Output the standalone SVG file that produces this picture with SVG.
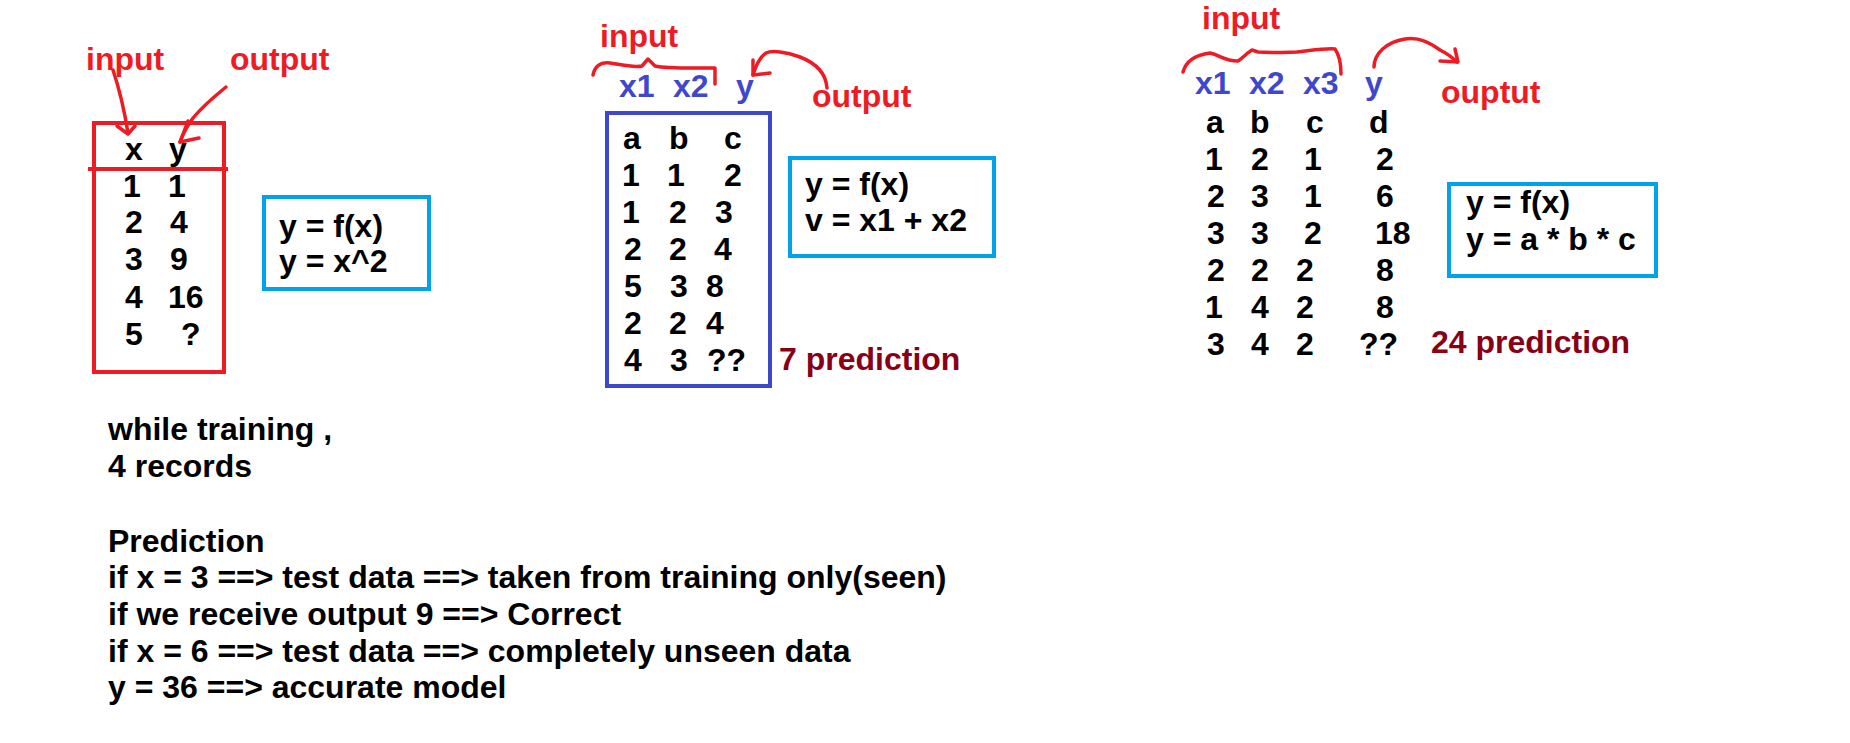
<svg xmlns="http://www.w3.org/2000/svg" width="1850" height="743" viewBox="0 0 1850 743">
<style>
text{font-family:"Liberation Sans",Arial,sans-serif;font-weight:bold;font-size:32px;fill:#000}
.red{fill:#ED1C24}
.ind{fill:#3F48CC}
.dark{fill:#880015}
.ann{fill:none;stroke:#ED1C24;stroke-width:3.5;stroke-linecap:round;stroke-linejoin:round}
.box-red{fill:none;stroke:#ED1C24;stroke-width:4}
.box-ind{fill:none;stroke:#3F48CC;stroke-width:4}
.box-cyan{fill:none;stroke:#00A2E8;stroke-width:4}
</style>
<rect width="1850" height="743" fill="#fff"/>

<g id="left-table">
<text class="red" x="86" y="70">input</text>
<text class="red" x="230" y="70">output</text>
<rect class="box-red" x="94" y="123" width="130" height="249"/>
<line x1="88" y1="169" x2="228" y2="169" stroke="#ED1C24" stroke-width="4"/>
<text x="125" y="160">x</text><text x="169" y="160">y</text>
<text x="123" y="197">1</text><text x="168" y="197">1</text>
<text x="125" y="233">2</text><text x="170" y="233">4</text>
<text x="125" y="270">3</text><text x="170" y="270">9</text>
<text x="125" y="308">4</text><text x="168" y="308">16</text>
<text x="125" y="345">5</text><text x="181" y="345">?</text>
</g>

<g id="left-formula">
<rect class="box-cyan" x="264" y="197" width="165" height="92"/>
<text x="279" y="237">y = f(x)</text>
<text x="279" y="272">y = x^2</text>
</g>

<g id="notes">
<text x="108" y="440">while training ,</text>
<text x="108" y="477">4 records</text>
<text x="108" y="552">Prediction</text>
<text x="108" y="588">if x = 3 ==&gt; test data ==&gt; taken from training only(seen)</text>
<text x="108" y="625">if we receive output 9 ==&gt; Correct</text>
<text x="108" y="662">if x = 6 ==&gt; test data ==&gt; completely unseen data</text>
<text x="108" y="698">y = 36 ==&gt; accurate model</text>
</g>

<g id="middle-table">
<text class="red" x="600" y="47">input</text>
<text class="ind" x="619" y="97">x1</text>
<text class="ind" x="673" y="97">x2</text>
<text class="ind" x="736" y="97">y</text>
<text class="red" x="812" y="107">output</text>
<rect class="box-ind" x="607" y="113" width="163" height="273"/>
<text x="623" y="149">a</text><text x="669" y="149">b</text><text x="724" y="149">c</text>
<text x="622" y="186">1</text><text x="667" y="186">1</text><text x="724" y="186">2</text>
<text x="622" y="223">1</text><text x="669" y="223">2</text><text x="715" y="223">3</text>
<text x="624" y="260">2</text><text x="669" y="260">2</text><text x="714" y="260">4</text>
<text x="624" y="297">5</text><text x="670" y="297">3</text><text x="706" y="297">8</text>
<text x="624" y="334">2</text><text x="669" y="334">2</text><text x="706" y="334">4</text>
<text x="624" y="371">4</text><text x="670" y="371">3</text><text x="707" y="371">??</text>
<text class="dark" x="779" y="370">7 prediction</text>
</g>

<g id="middle-formula">
<rect class="box-cyan" x="790" y="158" width="204" height="98"/>
<text x="805" y="195">y = f(x)</text>
<text x="805" y="231">v = x1 + x2</text>
</g>

<g id="right-table">
<text class="red" x="1202" y="29">input</text>
<text class="ind" x="1195" y="94">x1</text>
<text class="ind" x="1249" y="94">x2</text>
<text class="ind" x="1303" y="94">x3</text>
<text class="ind" x="1365" y="94">y</text>
<text class="red" x="1441" y="103">ouptut</text>
<text x="1206" y="133">a</text><text x="1250" y="133">b</text><text x="1306" y="133">c</text><text x="1369" y="133">d</text>
<text x="1205" y="170">1</text><text x="1251" y="170">2</text><text x="1304" y="170">1</text><text x="1376" y="170">2</text>
<text x="1207" y="207">2</text><text x="1251" y="207">3</text><text x="1304" y="207">1</text><text x="1376" y="207">6</text>
<text x="1207" y="244">3</text><text x="1251" y="244">3</text><text x="1304" y="244">2</text><text x="1375" y="244">18</text>
<text x="1207" y="281">2</text><text x="1251" y="281">2</text><text x="1296" y="281">2</text><text x="1376" y="281">8</text>
<text x="1205" y="318">1</text><text x="1251" y="318">4</text><text x="1296" y="318">2</text><text x="1376" y="318">8</text>
<text x="1207" y="355">3</text><text x="1251" y="355">4</text><text x="1296" y="355">2</text><text x="1359" y="355">??</text>
<text class="dark" x="1431" y="353">24 prediction</text>
</g>

<g id="right-formula">
<rect class="box-cyan" x="1449" y="184" width="207" height="92"/>
<text x="1466" y="213">y = f(x)</text>
<text x="1466" y="250">y = a * b * c</text>
</g>

<g id="connectors">
<path class="ann" d="M113,70 C119,88 124,108 128,133"/>
<path class="ann" d="M117,126 L128,134 L135,126"/>
<path class="ann" d="M226,87 C210,100 198,112 193,118 C187,126 183,134 180,142"/>
<path class="ann" d="M188,121 L180,142 L199,138"/>
<path class="ann" d="M593,75 C595,66 600,62 610,63 C622,65 635,68 642,66 L648,59 L655,66 C668,69 695,68 715,68 L715,84"/>
<path class="ann" d="M827,88 C826,74 818,64 800,57 C786,52 772,50 766,53 C760,57 756,65 753,75"/>
<path class="ann" d="M753,60 L753,75 L770,73"/>
<path class="ann" d="M1183,72 C1186,61 1195,55 1210,53 C1220,55 1224,61 1238,61 C1244,57 1248,52 1252,50 L1258,52 C1275,53 1290,52 1297,52 C1315,50 1328,48 1335,49 C1340,56 1341,65 1341,74"/>
<path class="ann" d="M1374,67 C1374,54 1386,42 1405,39 C1420,37 1430,43 1440,50 C1448,54 1452,57 1457,62"/>
<path class="ann" d="M1440,61 L1458,62 L1455,49"/>
</g>
</svg>
